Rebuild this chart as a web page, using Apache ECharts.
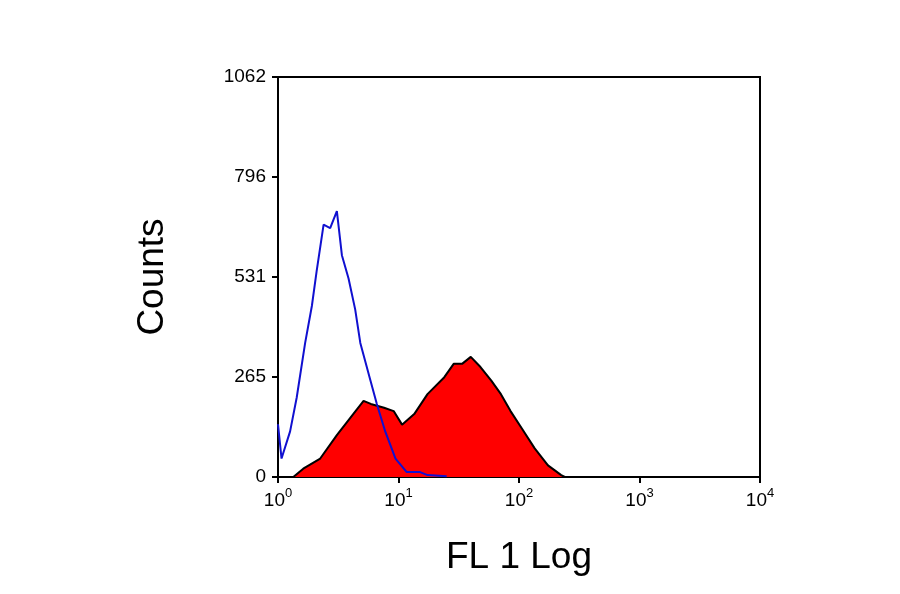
<!DOCTYPE html>
<html>
<head>
<meta charset="utf-8">
<script src="https://cdn.jsdelivr.net/npm/echarts@6/dist/echarts.min.js"></script>
<style>html,body{margin:0;padding:0;background:#fff}#chart{width:900px;height:594px}</style>
</head>
<body>
<div id="chart"></div>
<script>
// control (blue outline)
var controlX = [1, 1.07, 1.26, 1.43, 1.68, 1.91, 2.09, 2.39, 2.71, 3.08, 3.39, 3.85, 4.37, 4.82, 5.85, 6.61, 7.76, 9.44, 11.7, 15.1, 17.4, 25.1];
var controlY = [140, 49, 121, 211, 356, 454, 545, 670, 661, 706, 589, 527, 445, 356, 256, 194, 121, 49, 13, 13, 5, 2];
// stained sample (red filled)
var sampleX = [1.34, 1.62, 2.24, 3.09, 3.98, 5.13, 5.89, 7.59, 9.12, 10.7, 13.5, 17.4, 24.0, 28.8, 33.9, 39.8, 47.9, 58.9, 70.8, 85.1, 105, 135, 174, 224, 240];
var sampleY = [0, 22, 49, 112, 157, 202, 194, 184, 175, 139, 167, 220, 265, 301, 301, 319, 292, 256, 220, 175, 130, 76, 31, 5, 0];
var yTickLabels = ['0', '265', '531', '796', '1062'];
var xTickExp = ['0', '1', '2', '3', '4'];

function pairs(xs, ys) { return xs.map(function (x, i) { return [x, ys[i]]; }); }

var chart = echarts.init(document.getElementById('chart'));
chart.setOption({
  animation: false,
  grid: { left: 278, top: 77, right: 140, bottom: 117, show: true, borderColor: '#000', borderWidth: 2 },
  xAxis: {
    type: 'log', min: 1, max: 10000, logBase: 10,
    name: 'FL 1 Log', nameLocation: 'middle', nameGap: 62,
    nameTextStyle: { fontFamily: 'Liberation Sans', fontSize: 37, color: '#000' },
    axisLine: { lineStyle: { color: '#000', width: 2 } },
    axisTick: { inside: false, length: 6, lineStyle: { color: '#000', width: 2 } },
    minorTick: { show: false },
    splitLine: { show: false },
    axisLabel: {
      margin: 10,
      formatter: function (v) {
        var e = Math.round(Math.log10(v));
        return '{b|10}{s|' + xTickExp[e] + '}';
      },
      rich: {
        b: { fontFamily: 'Liberation Sans', fontSize: 19, color: '#000', verticalAlign: 'bottom' },
        s: { fontFamily: 'Liberation Sans', fontSize: 13, color: '#000', verticalAlign: 'top', padding: [0, 0, 10, 0] }
      }
    }
  },
  yAxis: {
    type: 'value', min: 0, max: 1062, interval: 265.5,
    name: 'Counts', nameLocation: 'middle', nameGap: 107,
    nameTextStyle: { fontFamily: 'Liberation Sans', fontSize: 37, color: '#000' },
    axisLine: { show: true, lineStyle: { color: '#000', width: 2 } },
    axisTick: { show: true, length: 6, lineStyle: { color: '#000', width: 2 } },
    splitLine: { show: false },
    axisLabel: {
      margin: 12, fontFamily: 'Liberation Sans', fontSize: 19, color: '#000',
      formatter: function (v) { return yTickLabels[Math.round(v / 265.5)]; }
    }
  },
  series: [
    {
      type: 'line', data: pairs(sampleX, sampleY), symbol: 'none', z: 2,
      lineStyle: { color: '#000', width: 2 },
      areaStyle: { color: '#ff0000', opacity: 1 }
    },
    {
      type: 'line', data: pairs(controlX, controlY), symbol: 'none', z: 3,
      lineStyle: { color: '#1010d0', width: 2 }
    }
  ]
});
</script>
</body>
</html>
